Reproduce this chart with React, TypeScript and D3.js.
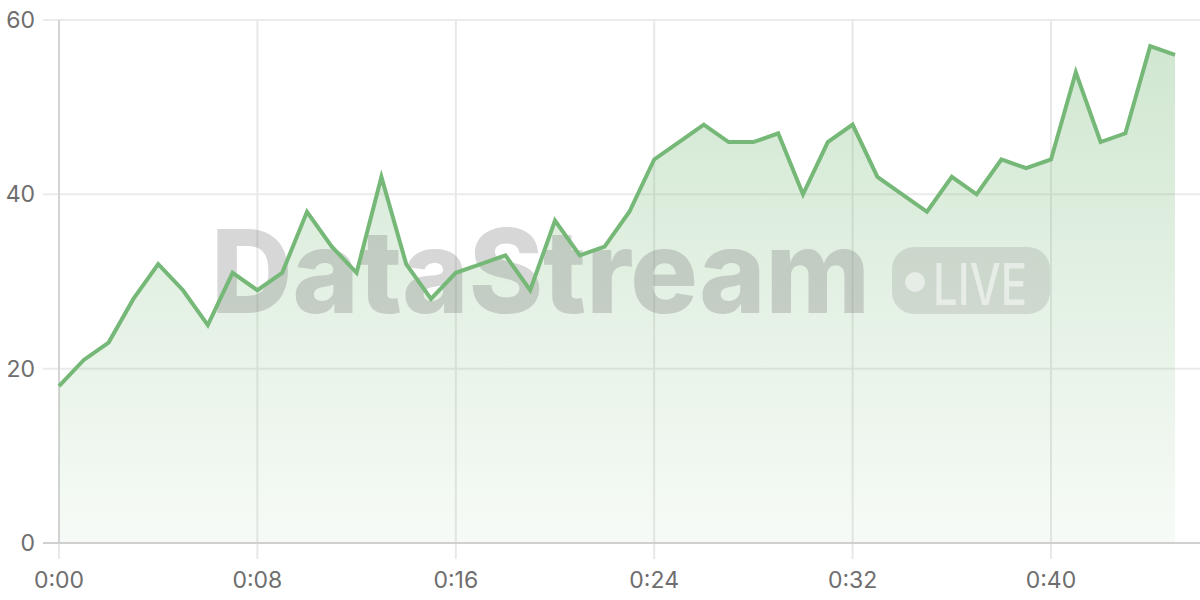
import * as d3 from "d3"

// minutes since start
const minutes = [
  0, 1, 2, 3, 4, 5, 6, 7, 8, 9, 10, 11, 12, 13, 14, 15, 16, 17, 18, 19, 20, 21, 22,
  23, 24, 25, 26, 27, 28, 29, 30, 31, 32, 33, 34, 35, 36, 37, 38, 39, 40, 41, 42, 43,
  44, 45,
]
const values = [
  18, 21, 23, 28, 32, 29, 25, 31, 29, 31, 38, 34, 31, 42, 32, 28, 31, 32, 33, 29, 37,
  33, 34, 38, 44, 46, 48, 46, 46, 47, 40, 46, 48, 42, 40, 38, 42, 40, 44, 43, 44, 54,
  46, 47, 57, 56,
]
const xTicks = [0, 8, 16, 24, 32, 40]
const xTickLabels = ["0:00", "0:08", "0:16", "0:24", "0:32", "0:40"]
const yTicks = [0, 20, 40, 60]

const W = 1200
const H = 600
const margin = { top: 20, left: 59, bottom: 57 }
const plotRight = 1200
const lastX = 1175

const LINE = "#76b877"
const FONT = "Inter, 'Open Sans', sans-serif"

export default function App() {
  const x = d3.scaleLinear().domain([0, 45]).range([margin.left, lastX])
  const y = d3.scaleLinear().domain([0, 60]).range([H - margin.bottom, margin.top])
  const y0 = y(0)

  const pts = minutes.map((m, i) => ({ m, v: values[i] }))

  const line = d3
    .line<{ m: number; v: number }>()
    .x((d) => x(d.m))
    .y((d) => y(d.v))

  const area = d3
    .area<{ m: number; v: number }>()
    .x((d) => x(d.m))
    .y0(y0)
    .y1((d) => y(d.v))

  return (
    <svg
      width={W}
      height={H}
      style={{ position: "absolute", left: 0, top: 0, background: "#fff" }}
    >
      <defs>
        <linearGradient id="areaFill" x1="0" y1="0" x2="0" y2="1">
          <stop offset="0%" stopColor={LINE} stopOpacity={0.34} />
          <stop offset="100%" stopColor={LINE} stopOpacity={0.06} />
        </linearGradient>
      </defs>

      {/* horizontal grid */}
      {yTicks
        .filter((t) => t !== 0)
        .map((t) => (
          <line
            key={"h" + t}
            x1={margin.left - 16}
            x2={plotRight}
            y1={y(t)}
            y2={y(t)}
            stroke="#ebebeb"
            strokeWidth={2}
          />
        ))}

      {/* vertical grid + ticks */}
      {xTicks.map((t) => (
        <line
          key={"v" + t}
          x1={x(t)}
          x2={x(t)}
          y1={margin.top}
          y2={y0 + 16}
          stroke="#e8e8e8"
          strokeWidth={2}
        />
      ))}

      {/* y axis line */}
      <line x1={margin.left} x2={margin.left} y1={margin.top} y2={y0} stroke="#d4d4d4" strokeWidth={2} />

      {/* area */}
      <path d={area(pts) ?? ""} fill="url(#areaFill)" />

      {/* watermark */}
      <g>
        <text
          x={211}
          y={313}
          fontFamily={FONT}
          fontWeight={800}
          fontSize={116}
          textLength={659}
          lengthAdjust="spacingAndGlyphs"
          fill="#7a7a7a"
          fillOpacity={0.3}
        >
          DataStream
        </text>
        <rect x={892} y={247} width={158} height={67} rx={22} fill="#7a7a7a" fillOpacity={0.2} />
        <circle cx={915} cy={282} r={10} fill="#fff" fillOpacity={0.5} />
        <text
          x={933}
          y={305}
          fontFamily={FONT}
          fontWeight={500}
          fontSize={57}
          textLength={94}
          lengthAdjust="spacingAndGlyphs"
          fill="#fff"
          fillOpacity={0.5}
        >
          LIVE
        </text>
      </g>

      {/* bottom axis line */}
      <line x1={margin.left - 16} x2={plotRight} y1={y0} y2={y0} stroke="#d0d0d0" strokeWidth={2} />

      {/* line */}
      <path
        d={line(pts) ?? ""}
        fill="none"
        stroke={LINE}
        strokeWidth={4}
        strokeLinejoin="miter"
      />

      {/* y labels */}
      {yTicks.map((t) => (
        <text
          key={"yl" + t}
          x={35}
          y={y(t)}
          textAnchor="end"
          dominantBaseline="central"
          fontFamily={FONT}
          fontSize={23}
          fill="#6e6e6e"
        >
          {t}
        </text>
      ))}

      {/* x labels */}
      {xTicks.map((t, i) => (
        <text
          key={"xl" + t}
          x={x(t)}
          y={588}
          textAnchor="middle"
          fontFamily={FONT}
          fontSize={23}
          fill="#6e6e6e"
        >
          {xTickLabels[i]}
        </text>
      ))}
    </svg>
  )
}
